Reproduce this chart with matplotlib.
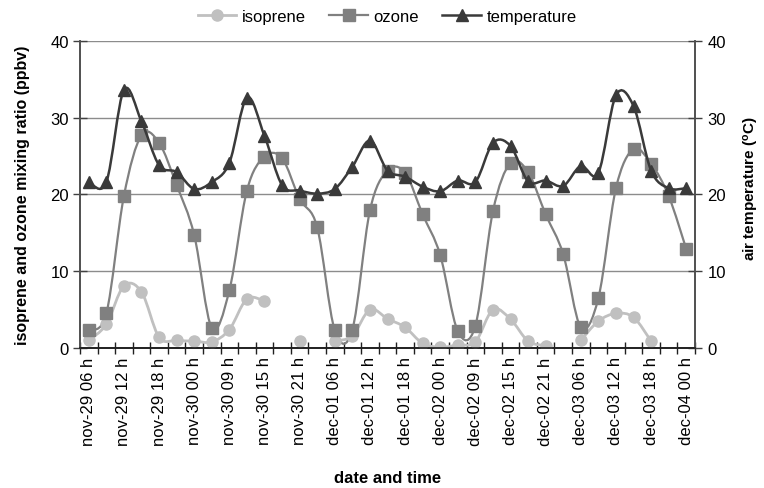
import numpy as np
import matplotlib
matplotlib.use("Agg")
import matplotlib.pyplot as plt
from matplotlib.path import Path
from matplotlib.patches import PathPatch
from matplotlib.lines import Line2D

plt.rcParams['font.family'] = ['Liberation Sans', 'DejaVu Sans']

nan = np.nan
tick_labels = ["nov-29 06 h", "nov-29 12 h", "nov-29 18 h", "nov-30 00 h", "nov-30 09 h",
               "nov-30 15 h", "nov-30 21 h", "dec-01 06 h", "dec-01 12 h", "dec-01 18 h",
               "dec-02 00 h", "dec-02 09 h", "dec-02 15 h", "dec-02 21 h", "dec-03 06 h",
               "dec-03 12 h", "dec-03 18 h", "dec-04 00 h"]

isoprene = [1.0, 3.1, 8.1, 7.3, 1.4, 1.0, 0.9, 0.8, 2.4, 6.4, 6.1, nan, 0.9, nan, 0.9,
            1.6, 5.0, 3.8, 2.7, 0.6, 0.1, 0.4, 0.8, 5.0, 3.75, 0.9, 0.3, nan, 1.0, 3.5,
            4.5, 4.0, 0.9, nan, nan]
ozone = [2.3, 4.5, 19.8, 27.7, 26.7, 21.2, 14.7, 2.6, 7.5, 20.5, 24.9, 24.7, 19.4, 15.7,
         2.3, 2.4, 17.9, 23.1, 22.8, 17.4, 12.1, 2.2, 2.9, 17.8, 24.1, 22.9, 17.4, 12.2,
         2.7, 6.5, 20.8, 25.9, 24.0, 19.8, 12.9]
temperature = [21.6, 21.6, 33.6, 29.5, 23.8, 22.9, 20.7, 21.6, 24.1, 32.6, 27.6, 21.2,
               20.5, 20.1, 20.7, 23.6, 27.0, 23.1, 22.3, 21.0, 20.4, 21.8, 21.6, 26.7,
               26.3, 21.7, 21.8, 21.1, 23.7, 22.8, 32.9, 31.5, 23.1, 20.8, 20.8]

n = len(ozone)
x = np.arange(n)


def smooth_path(xs, ys):
    """Excel-like smoothed line: cubic Bezier through points, split at NaNs."""
    verts, codes = [], []
    ys = np.asarray(ys, float)
    valid = ~np.isnan(ys)
    i = 0
    while i < len(ys):
        if not valid[i]:
            i += 1
            continue
        j = i
        while j + 1 < len(ys) and valid[j + 1]:
            j += 1
        px = xs[i:j + 1]
        py = ys[i:j + 1]
        m = len(px)
        if m >= 2:
            P = np.column_stack([px, py])
            verts.append(P[0]); codes.append(Path.MOVETO)
            for k in range(m - 1):
                p0 = P[k - 1] if k > 0 else P[k]
                p1 = P[k]
                p2 = P[k + 1]
                p3 = P[k + 2] if k + 2 < m else P[k + 1]
                c1 = p1 + (p2 - p0) / 6.0
                c2 = p2 - (p3 - p1) / 6.0
                verts.extend([c1, c2, p2])
                codes.extend([Path.CURVE4] * 3)
        i = j + 1
    return Path(verts, codes)


fig = plt.figure(figsize=(7.64, 4.89), dpi=100)
ax = fig.add_axes([0.1047, 0.2863, 0.805, 0.6284])
ax2 = ax.twinx()

c_iso = '#c0c0c0'
c_oz = '#808080'
c_t = '#3a3a3a'

ax.set_xlim(-0.5, n - 0.5)
ax.set_ylim(0, 40)
ax2.set_ylim(0, 40)

ax.add_patch(PathPatch(smooth_path(x, isoprene), fill=False, edgecolor=c_iso, lw=2.0, zorder=3))
ax.plot(x, isoprene, ls='none', marker='o', ms=8, color=c_iso, zorder=4)
ax.add_patch(PathPatch(smooth_path(x, ozone), fill=False, edgecolor=c_oz, lw=1.6, zorder=3))
ax.plot(x, ozone, ls='none', marker='s', ms=8, color=c_oz, zorder=4)
ax2.add_patch(PathPatch(smooth_path(x, temperature), fill=False, edgecolor=c_t, lw=1.8, zorder=3))
ax2.plot(x, temperature, ls='none', marker='^', ms=9, color=c_t, zorder=4)

# grid
ax.set_yticks([0, 10, 20, 30, 40])
ax2.set_yticks([0, 10, 20, 30, 40])
ax.yaxis.grid(True, color='#8c8c8c', lw=1.0)
ax.set_axisbelow(True)

# x ticks: boundaries with marks, labels at every other category
ax.set_xticks(np.arange(-0.5, n, 1.0))
ax.set_xticklabels([])
ax.set_xticks(x[::2], minor=True)
ax.set_xticklabels(tick_labels, minor=True, rotation=90, fontsize=12)
ax.tick_params(axis='x', which='major', direction='inout', length=8, width=1, color='#202020')
ax.tick_params(axis='x', which='minor', length=0, pad=6)
ax.tick_params(axis='y', direction='inout', length=10, width=1, color='#404040', labelsize=12, pad=3)
ax2.tick_params(axis='y', direction='inout', length=10, width=1, color='#404040', labelsize=12, pad=4)

for a in (ax, ax2):
    a.spines['top'].set_visible(False)
    a.spines['left'].set_color('#505050')
    a.spines['right'].set_color('#505050')
    a.spines['bottom'].set_color('#202020')
    a.spines['left'].set_linewidth(1.2)
    a.spines['right'].set_linewidth(1.2)
    a.spines['bottom'].set_linewidth(1.2)

ax.set_ylabel('isoprene and ozone mixing ratio (ppbv)', fontsize=11.5, fontweight='bold')
ax.yaxis.set_label_coords(-0.081, 0.5)
ax2.set_ylabel(r'air temperature ($\mathregular{^{o}}$C)', fontsize=11, fontweight='bold')
ax2.yaxis.set_label_coords(1.077, 0.522)
ax.set_xlabel('date and time', fontsize=12, fontweight='bold', labelpad=18)

handles = [Line2D([], [], color=c_iso, lw=2, marker='o', ms=8),
           Line2D([], [], color=c_oz, lw=1.6, marker='s', ms=8),
           Line2D([], [], color=c_t, lw=1.8, marker='^', ms=9)]
fig.legend(handles, ['isoprene', 'ozone', 'temperature'], loc='center', bbox_to_anchor=(0.507, 0.965),
           ncol=3, frameon=False, fontsize=12, handlelength=2.3, columnspacing=1.4, handletextpad=0.35)

fig.savefig('out.png', dpi=100)
